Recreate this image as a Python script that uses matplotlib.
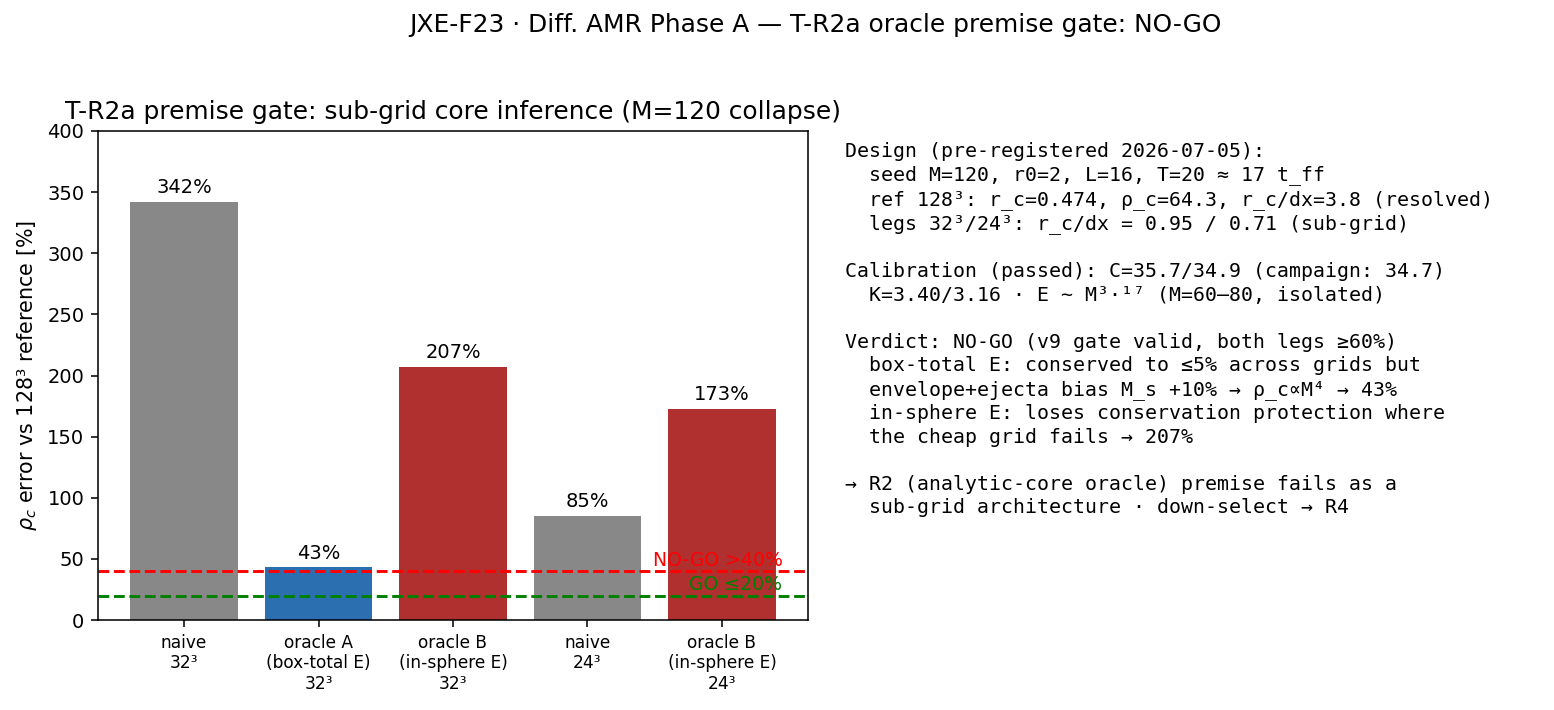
import matplotlib
matplotlib.use("Agg")
import matplotlib.pyplot as plt

# bar data
labels = ["naive\n32³", "oracle A\n(box-total E)\n32³", "oracle B\n(in-sphere E)\n32³",
          "naive\n24³", "oracle B\n(in-sphere E)\n24³"]
errors = [342, 43, 207, 85, 173]
colors = ["#888888", "#2c6fb0", "#b03030", "#888888", "#b03030"]

nogo_thr = 40
go_thr = 20

notes = (
    "Design (pre-registered 2026-07-05):\n"
    "  seed M=120, r0=2, L=16, T=20 ≈ 17 t_ff\n"
    "  ref 128³: r_c=0.474, ρ_c=64.3, r_c/dx=3.8 (resolved)\n"
    "  legs 32³/24³: r_c/dx = 0.95 / 0.71 (sub-grid)\n"
    "\n"
    "Calibration (passed): C=35.7/34.9 (campaign: 34.7)\n"
    "  K=3.40/3.16 · E ~ M³·¹⁷ (M=60–80, isolated)\n"
    "\n"
    "Verdict: NO-GO (v9 gate valid, both legs ≥60%)\n"
    "  box-total E: conserved to ≤5% across grids but\n"
    "  envelope+ejecta bias M_s +10% → ρ_c∝M⁴ → 43%\n"
    "  in-sphere E: loses conservation protection where\n"
    "  the cheap grid fails → 207%\n"
    "\n"
    "→ R2 (analytic-core oracle) premise fails as a\n"
    "  sub-grid architecture · down-select → R4"
)

dpi = 140
fig = plt.figure(figsize=(1554 / dpi, 710 / dpi), dpi=dpi)
ax = fig.add_axes([98 / 1554, 1 - 620 / 710, 710 / 1554, 489 / 710])

x = range(len(errors))
bars = ax.bar(x, errors, color=colors, width=0.8)
for b, v in zip(bars, errors):
    ax.text(b.get_x() + b.get_width() / 2, v + 4, f"{v}%", ha="center", va="bottom", fontsize=10)

ax.axhline(nogo_thr, color="red", ls="--", lw=1.5)
ax.axhline(go_thr, color="green", ls="--", lw=1.5)
ax.text(4.45, nogo_thr + 1, "NO-GO >40%", color="red", ha="right", va="bottom", fontsize=9.7)
ax.text(4.45, go_thr + 1, "GO ≤20%", color="green", ha="right", va="bottom", fontsize=9.7)

ax.set_xticks(list(x))
ax.set_xticklabels(labels, fontsize=8.75)
ax.tick_params(axis="y", labelsize=10)
ax.set_ylim(0, 400)
ax.set_ylabel(r"$\rho_c$ error vs 128³ reference [%]", fontsize=10.6)
ax.set_title("T-R2a premise gate: sub-grid core inference (M=120 collapse)", fontsize=12.8)

fig.text(845 / 1554, 1 - 142 / 710, notes, family="monospace", fontsize=10.25,
         linespacing=1.30, va="top", ha="left")
fig.suptitle("JXE-F23 · Diff. AMR Phase A — T-R2a oracle premise gate: NO-GO",
             x=815 / 1554, y=1 - 13 / 710, va="top", fontsize=12.8)

fig.savefig("out.png", dpi=dpi)
